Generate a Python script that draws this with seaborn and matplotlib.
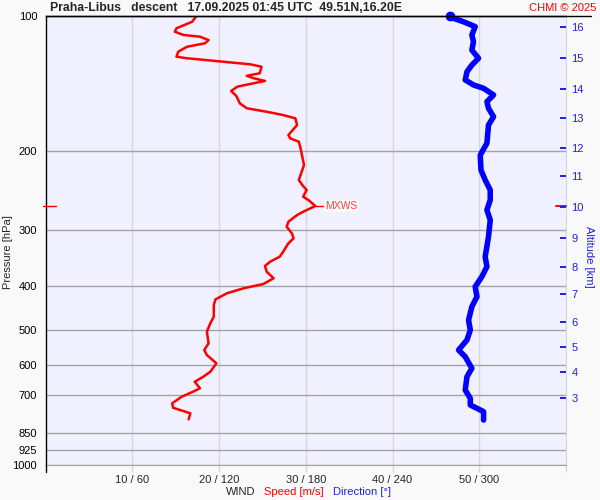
import numpy as np
import pandas as pd
import seaborn as sns
import matplotlib
matplotlib.use("Agg")
import matplotlib.pyplot as plt
from matplotlib.lines import Line2D
from matplotlib.transforms import blended_transform_factory
from matplotlib.ticker import NullLocator, FixedLocator, FixedFormatter

# ---------------- data ----------------
speed_p = [100.0, 103.0, 106.5, 108.4, 110.2, 111.2, 113.1, 115.0, 117.1, 120.1, 123.2, 124.2,
           126.0, 127.1, 128.1, 129.7, 134.1, 135.9, 137.6, 139.5, 141.7, 143.7, 146.9, 150.7,
           156.5, 160.5, 163.4, 166.2, 169.0, 174.9, 184.1, 187.3, 190.5, 197.0, 214.8, 231.9,
           237.9, 244.1, 252.6, 256.9, 264.9, 272.9, 277.5, 287.2, 294.7, 304.8, 312.7, 320.8,
           334.9, 343.6, 352.5, 360.4, 371.1, 383.9, 395.3, 404.2, 414.6, 427.6, 440.3, 467.4,
           483.5, 504.8, 535.8, 554.5, 568.9, 593.6, 619.8, 635.8, 652.4, 674.9, 686.7, 704.6,
           728.8, 745.5, 767.2, 791.2]
speed_ms = [17.4, 16.9, 15.1, 14.9, 15.9, 17.8, 18.8, 18.4, 16.3, 15.3, 15.1, 16.3,
            19.7, 21.7, 23.6, 24.9, 24.7, 23.2, 24.0, 25.3, 23.6, 22.1, 21.4, 22.0,
            22.4, 23.2, 25.5, 27.4, 28.8, 29.0, 28.0, 28.2, 29.2, 29.4, 29.8, 29.2,
            29.6, 30.1, 29.7, 30.3, 31.1, 29.7, 29.0, 28.0, 27.8, 28.4, 28.6, 28.0,
            27.4, 27.0, 25.9, 25.3, 25.5, 26.3, 25.1, 22.8, 20.9, 19.6, 19.4, 19.4,
            19.0, 18.6, 18.8, 18.3, 18.6, 19.7, 19.0, 18.2, 17.2, 17.8, 17.0, 15.7,
            14.6, 14.7, 16.7, 16.5]

dir_p = [100.0, 101.2, 103.0, 105.6, 110.2, 114.1, 119.1, 124.2, 128.6, 133.1, 138.8, 142.4,
         144.9, 149.9, 155.2, 160.5, 167.6, 174.9, 192.0, 204.0, 220.3, 231.9, 244.1, 256.9,
         270.4, 284.7, 310.1, 343.6, 361.6, 380.7, 400.7, 421.8, 444.1, 475.5, 500.4, 526.8,
         554.5, 573.9, 609.1, 635.8, 680.8, 710.3, 735.2, 747.6, 760.8, 794.1]
dir_deg = [279.9, 282.2, 289.1, 297.2, 294.9, 296.0, 294.9, 299.5, 294.9, 291.5, 290.3, 296.0,
           303.0, 309.9, 305.3, 306.4, 309.9, 306.4, 305.3, 300.7, 301.2, 304.1, 307.6, 307.6,
           305.3, 307.6, 306.4, 304.1, 305.3, 301.8, 297.2, 298.4, 294.9, 292.6, 293.8, 291.5,
           285.7, 290.3, 294.9, 291.5, 290.3, 293.8, 293.8, 298.4, 303.0, 303.0]

p_ticks = [100, 200, 300, 400, 500, 600, 700, 850, 925, 1000]
p_grid = [200, 300, 400, 500, 600, 700, 850, 925, 1000]
speed_ticks = [10, 20, 30, 40, 50]
speed_tick_labels = ["10 / 60", "20 / 120", "30 / 180", "40 / 240", "50 / 300"]
alt_km = [16, 15, 14, 13, 12, 11, 10, 9, 8, 7, 6, 5, 4, 3]
alt_p = [106.0, 123.8, 145.4, 168.7, 196.5, 227.2, 266.4, 311.7, 361.6, 416.1, 479.6, 546.0,
         620.8, 709.2]

title_text = "Praha-Libus   descent   17.09.2025 01:45 UTC  49.51N,16.20E"

# ---------------- style ----------------
sns.set_style("white")
plt.rcParams['font.family'] = ['Liberation Sans', 'DejaVu Sans']
plt.rcParams['font.size'] = 8

W, H = 600, 500
fig = plt.figure(figsize=(6, 5), dpi=100, facecolor='#f9f9f9')
L, R, T, B = 45.5, 566, 16, 465
ax = fig.add_axes([L / W, 1 - B / H, (R - L) / W, (B - T) / H])
ax.set_facecolor('#f0f0fe')

df_s = pd.DataFrame({'speed': speed_ms, 'p': speed_p})
df_d = pd.DataFrame({'dir': dir_deg, 'p': dir_p})

ax.set_yscale('log')

# grid lines
for p in p_grid:
    ax.axhline(p, color='#a4a4a4', lw=1, zorder=1)
for s in speed_ticks:
    ax.axvline(s, color='#d8d8d8', lw=1, zorder=0.5)

sns.lineplot(data=df_s, x='speed', y='p', sort=False, estimator=None, ax=ax,
             color='#ff0000', lw=1.8, zorder=3)

# direction axis (shares y with ax)
ax2 = ax.twiny()
sns.lineplot(data=df_d, x='dir', y='p', sort=False, estimator=None, ax=ax2,
             color='#0000ff', lw=4, zorder=3, solid_capstyle='round')
ax2.plot(dir_deg[0], dir_p[0], 'o', color='#0000ff', ms=6, clip_on=False, zorder=4)
ax2.set_xlim(0, 360)
ax2.set_xticks([])
ax2.set_xlabel("")
ax2.set_ylabel("")
for side in ['left', 'top', 'right', 'bottom']:
    ax2.spines[side].set_visible(False)

# altitude axis
ax3 = ax.twinx()
ax3.set_yscale('log')
ax3.set_ylim(1000, 100)
ax3.yaxis.set_major_locator(FixedLocator(alt_p))
ax3.yaxis.set_major_formatter(FixedFormatter([str(a) for a in alt_km]))
ax3.yaxis.set_minor_locator(NullLocator())
ax3.tick_params(axis='y', which='both', direction='in', length=4, width=1.4, color='#2020e0',
                labelcolor='#2020e0', pad=4, labelsize=8)
for side in ['left', 'top', 'right', 'bottom']:
    ax3.spines[side].set_visible(False)

# main axis ticks (after twins, so nothing resets them)
ax.set_ylim(1000, 100)
ax.set_xlim(0, 60)
ax.yaxis.set_major_locator(FixedLocator(p_ticks))
ax.yaxis.set_major_formatter(FixedFormatter([str(p) for p in p_ticks]))
ax.yaxis.set_minor_locator(NullLocator())
ax.tick_params(axis='y', which='both', length=0, pad=6, labelsize=8, colors='black')
ax.set_xticks(speed_ticks + [60])
ax.set_xticklabels(speed_tick_labels + [""])
ax.tick_params(axis='x', length=5, width=1, color='#d8d8d8', pad=2, labelsize=8)
ax.set_xlabel("")
ax.set_ylabel("")

for side in ['left', 'top', 'right', 'bottom']:
    ax.spines[side].set_visible(True)
ax.spines['left'].set_color('black')
ax.spines['left'].set_linewidth(1)
ax.spines['top'].set_color('black')
ax.spines['top'].set_linewidth(1)
ax.spines['right'].set_color('#d8d8d8')
ax.spines['bottom'].set_color('#a4a4a4')

# max wind marker
imax = int(np.argmax(speed_ms))
p_mx = speed_p[imax]
s_mx = speed_ms[imax]
ax.plot([s_mx, s_mx + 0.9], [p_mx, p_mx], color='#ff0000', lw=1, zorder=3)
ax.text(s_mx + 1.1, p_mx, "MXWS", color='#ff4040', fontsize=7.5, va='center', ha='left',
        bbox=dict(facecolor='#fafafa', edgecolor='none', pad=0.5), zorder=4)
tr_l = blended_transform_factory(ax.transAxes, ax.transData)
ax.plot([-0.005, 0.02], [p_mx, p_mx], transform=tr_l, color='#ff0000', lw=1,
        clip_on=False, zorder=5)
ax.plot([1 - 0.02, 1.0], [p_mx, p_mx], transform=tr_l, color='#ff0000', lw=1.4,
        clip_on=False, zorder=5)

# extend top line and left spine
fig.add_artist(Line2D([L / W, 591 / W], [1 - T / H, 1 - T / H], color='black', lw=1))
fig.add_artist(Line2D([L / W, L / W], [1 - B / H, 1 - 472 / H], color='black', lw=1))

# texts
fig.text(50 / W, 1 - 8 / H, title_text, fontsize=8.8, fontweight='bold', va='center', ha='left')
fig.text(596 / W, 1 - 8 / H, "CHMI © 2025", fontsize=8, color='#ff0000', va='center', ha='right')
fig.text(8 / W, 1 - 252 / H, "Pressure [hPa]", rotation=90, fontsize=8, va='center', ha='center')
fig.text(589.5 / W, 1 - 257 / H, "Altitude [km]", rotation=270, fontsize=8, color='#2020e0',
         va='center', ha='center')
fig.text(225.5 / W, 1 - 492 / H, "WIND", fontsize=8, va='center', ha='left')
fig.text(264.5 / W, 1 - 492 / H, "Speed [m/s]", fontsize=8, color='#ff0000', va='center', ha='left')
fig.text(333 / W, 1 - 492 / H, "Direction [°]", fontsize=8, color='#2020ff', va='center', ha='left')

fig.savefig("out.png", dpi=100, facecolor=fig.get_facecolor())
